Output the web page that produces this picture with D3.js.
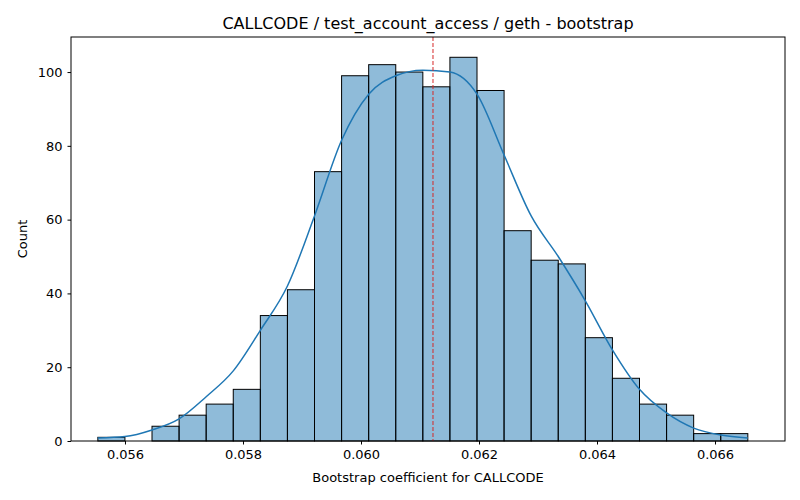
<!DOCTYPE html>
<html><head><meta charset="utf-8">
<script src="https://cdn.jsdelivr.net/npm/d3@7"></script>
<style>body{margin:0;background:#fff}text{font-family:"DejaVu Sans",sans-serif}</style>
</head><body><div id="chart"></div>
<script>
const binStart = 0.05554;
const binWidth = 0.000459;
const counts = [1, 0, 4, 7, 10, 14, 34, 41, 73, 99, 102, 100, 96, 104, 95, 57, 49, 48, 28, 17, 10, 7, 2, 2];
// kde curve read at bin edges
const kdeValues = [0.8, 1.2, 3, 6, 12, 19, 30, 42, 61, 81.5, 94, 99, 100.5, 100, 94, 77.5, 61, 50, 38, 24.7, 14, 7.6, 3.5, 1.6, 0.8];
const meanValue = 0.06122;
const xTicks = [0.056, 0.058, 0.060, 0.062, 0.064, 0.066];
const yTicks = [0, 20, 40, 60, 80, 100];

const W = 800, H = 500;
const M = { TOP: 37, BOTTOM: 59, LEFT: 71, RIGHT: 15 };
const svg = d3.select("#chart").append("svg").attr("width", W).attr("height", H);
const g = svg.append("g").attr("transform", `translate(${M.LEFT},${M.TOP})`);
const iw = W - M.LEFT - M.RIGHT, ih = H - M.TOP - M.BOTTOM;

const x = d3.scaleLinear().domain([0.055085, 0.067186]).range([0, iw]);
const y = d3.scaleLinear().domain([0, 109.5]).range([ih, 0]);

g.selectAll("rect.bar").data(counts).enter().append("rect")
  .attr("x", (d, i) => x(binStart + i * binWidth))
  .attr("width", (d, i) => x(binStart + (i + 1) * binWidth) - x(binStart + i * binWidth))
  .attr("y", d => y(d))
  .attr("height", d => ih - y(d))
  .attr("fill", "rgba(31,119,180,0.5)")
  .attr("stroke", "black").attr("stroke-width", 1);

const line = d3.line()
  .x((d, i) => x(binStart + i * binWidth))
  .y(d => y(d))
  .curve(d3.curveMonotoneX);
g.append("path").attr("d", line(kdeValues)).attr("fill", "none")
  .attr("stroke", "#1f77b4").attr("stroke-width", 1.5);

g.append("line").attr("x1", x(meanValue)).attr("x2", x(meanValue))
  .attr("y1", 0).attr("y2", ih).attr("stroke", "#d62728")
  .attr("stroke-dasharray", "4,2").attr("stroke-width", 1);

const xa = g.append("g").attr("transform", `translate(0,${ih})`)
  .call(d3.axisBottom(x).tickValues(xTicks).tickFormat(d3.format(".3f")).tickSize(3.5).tickPadding(5));
const ya = g.append("g").call(d3.axisLeft(y).tickValues(yTicks).tickSize(3.5).tickPadding(5));
[xa, ya].forEach(a => {
  a.selectAll("text").attr("font-size", 13).attr("fill", "#000").style("font-family", "DejaVu Sans");
  a.select(".domain").remove();
});
g.append("rect").attr("width", iw).attr("height", ih).attr("fill", "none").attr("stroke", "black");

svg.append("text").attr("x", M.LEFT + iw / 2).attr("y", 29).attr("text-anchor", "middle")
  .attr("font-size", 16).text("CALLCODE / test_account_access / geth - bootstrap");
svg.append("text").attr("x", M.LEFT + iw / 2).attr("y", 482).attr("text-anchor", "middle")
  .attr("font-size", 13).text("Bootstrap coefficient for CALLCODE");
svg.append("text").attr("transform", `translate(27,${M.TOP + ih / 2}) rotate(-90)`)
  .attr("text-anchor", "middle").attr("font-size", 13).text("Count");
</script></body></html>
